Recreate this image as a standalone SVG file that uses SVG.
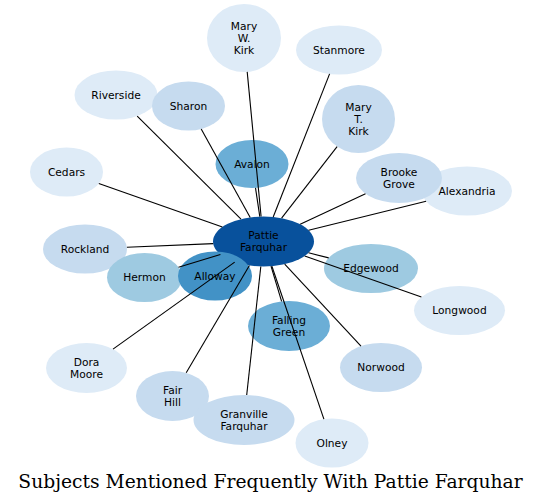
<svg xmlns="http://www.w3.org/2000/svg" width="541" height="504" viewBox="0 0 541 504">
<style>
.n text{font-family:"DejaVu Sans","Liberation Sans",sans-serif;font-size:10.67px;text-anchor:middle;fill:#000}
.c1{fill:#deebf7}.c2{fill:#c6dbef}.c3{fill:#9ecae1}.c4{fill:#6baed6}.c5{fill:#4292c6}.c7{fill:#08519c}
#connectors line{stroke:#000;stroke-width:1.1}
.title{font-family:"DejaVu Serif","Liberation Serif",serif;font-size:18.7px;text-anchor:middle;fill:#000}
</style>
<rect width="541" height="504" fill="#fff"/>
<g id="nodes">
<g id="mary-w-kirk" class="n"><ellipse class="c1" cx="244" cy="38" rx="37" ry="34"/><text x="244" y="29.5">Mary</text><text x="244" y="41.5">W.</text><text x="244" y="53.5">Kirk</text></g>
<g id="stanmore" class="n"><ellipse class="c1" cx="339" cy="50" rx="43" ry="24.5"/><text x="339" y="53.5">Stanmore</text></g>
<g id="mary-t-kirk" class="n"><ellipse class="c2" cx="358.5" cy="119" rx="36.5" ry="34"/><text x="358.5" y="110.5">Mary</text><text x="358.5" y="122.5">T.</text><text x="358.5" y="134.5">Kirk</text></g>
<g id="riverside" class="n"><ellipse class="c1" cx="116" cy="95" rx="41.5" ry="24.5"/><text x="116" y="98.5">Riverside</text></g>
<g id="sharon" class="n"><ellipse class="c2" cx="188.5" cy="106" rx="36.5" ry="24.5"/><text x="188.5" y="109.5">Sharon</text></g>
<g id="cedars" class="n"><ellipse class="c1" cx="66.5" cy="172" rx="36.5" ry="24.5"/><text x="66.5" y="175.5">Cedars</text></g>
<g id="avalon" class="n"><ellipse class="c4" cx="252" cy="164" rx="36.5" ry="24"/><text x="252" y="167.5">Avalon</text></g>
<g id="alexandria" class="n"><ellipse class="c1" cx="467" cy="191" rx="45" ry="24.5"/><text x="467" y="194.5">Alexandria</text></g>
<g id="brooke-grove" class="n"><ellipse class="c2" cx="399" cy="178" rx="43" ry="25"/><text x="399" y="175.5">Brooke</text><text x="399" y="187.5">Grove</text></g>
<g id="pattie-farquhar" class="n"><ellipse class="c7" cx="263.5" cy="241.5" rx="50.5" ry="25"/><text x="263.5" y="239">Pattie</text><text x="263.5" y="251">Farquhar</text></g>
<g id="rockland" class="n"><ellipse class="c2" cx="85" cy="249" rx="42" ry="24.5"/><text x="85" y="252.5">Rockland</text></g>
<g id="hermon" class="n"><ellipse class="c3" cx="144.5" cy="277.5" rx="37.5" ry="24.5"/><text x="144.5" y="281">Hermon</text></g>
<g id="alloway" class="n"><ellipse class="c5" cx="215" cy="276" rx="37" ry="24.5"/><text x="215" y="279.5">Alloway</text></g>
<g id="edgewood" class="n"><ellipse class="c3" cx="371" cy="268.5" rx="47" ry="24.5"/><text x="371" y="272">Edgewood</text></g>
<g id="longwood" class="n"><ellipse class="c1" cx="459.5" cy="310.5" rx="45.5" ry="24.5"/><text x="459.5" y="314">Longwood</text></g>
<g id="falling-green" class="n"><ellipse class="c4" cx="289" cy="326" rx="41" ry="25"/><text x="289" y="323.5">Falling</text><text x="289" y="335.5">Green</text></g>
<g id="norwood" class="n"><ellipse class="c2" cx="381" cy="367.5" rx="41" ry="24.5"/><text x="381" y="371">Norwood</text></g>
<g id="dora-moore" class="n"><ellipse class="c1" cx="86.5" cy="368" rx="40.5" ry="25"/><text x="86.5" y="365.5">Dora</text><text x="86.5" y="377.5">Moore</text></g>
<g id="fair-hill" class="n"><ellipse class="c2" cx="172.5" cy="396" rx="36.5" ry="25"/><text x="172.5" y="393.5">Fair</text><text x="172.5" y="405.5">Hill</text></g>
<g id="granville-farquhar" class="n"><ellipse class="c2" cx="244" cy="420" rx="50.5" ry="25"/><text x="244" y="417.5">Granville</text><text x="244" y="429.5">Farquhar</text></g>
<g id="olney" class="n"><ellipse class="c1" cx="332" cy="443" rx="36.5" ry="24.5"/><text x="332" y="446.5">Olney</text></g>
</g>
<g id="connectors">
<line x1="261.1" y1="216.5" x2="247.2" y2="71.9"/>
<line x1="273.2" y1="217" x2="329.6" y2="73.9"/>
<line x1="281.6" y1="218.2" x2="337.1" y2="146.6"/>
<line x1="241" y1="219.1" x2="137.2" y2="116.1"/>
<line x1="250.2" y1="217.4" x2="201.2" y2="129"/>
<line x1="259.8" y1="216.6" x2="255.5" y2="187.9"/>
<line x1="222.4" y1="227" x2="98.8" y2="183.4"/>
<line x1="300.2" y1="224.3" x2="365.5" y2="193.7"/>
<line x1="308.6" y1="230.3" x2="426.1" y2="201.2"/>
<line x1="213.2" y1="243.6" x2="126.9" y2="247.2"/>
<line x1="220.4" y1="254.5" x2="178.5" y2="267.2"/>
<line x1="234.7" y1="262.1" x2="113" y2="349.1"/>
<line x1="249.4" y1="265.5" x2="186.2" y2="372.8"/>
<line x1="260.8" y1="266.5" x2="246.7" y2="395"/>
<line x1="271" y1="266.2" x2="281.6" y2="301.4"/>
<line x1="271.9" y1="266.2" x2="323.9" y2="419.1"/>
<line x1="284.7" y1="264.2" x2="361" y2="346.1"/>
<line x1="308.5" y1="252.8" x2="328.7" y2="257.9"/>
<line x1="304.7" y1="256" x2="421.4" y2="297.1"/>
</g>
<text class="title" x="270.5" y="488">Subjects Mentioned Frequently With Pattie Farquhar</text>
</svg>
